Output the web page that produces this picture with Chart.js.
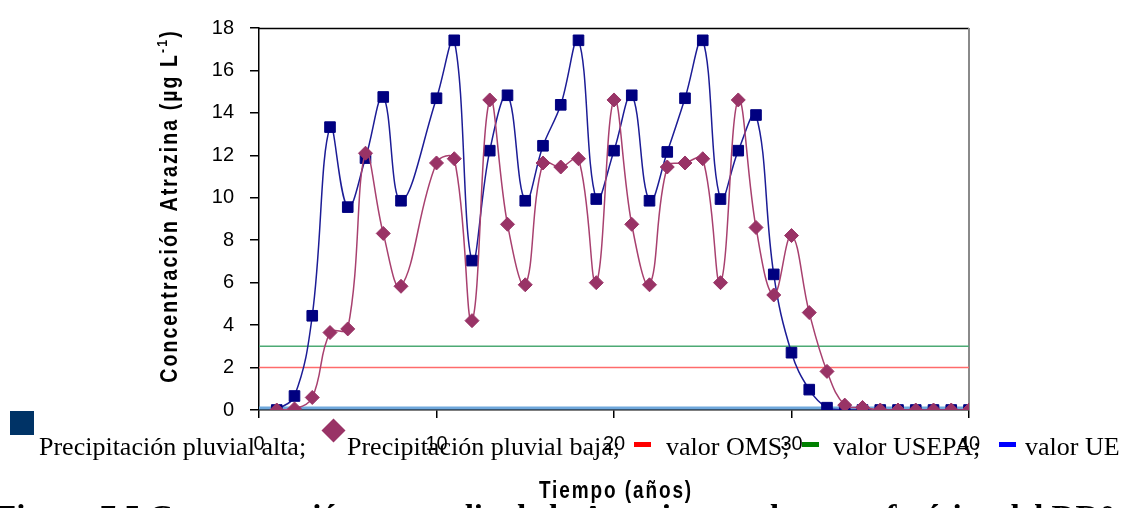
<!DOCTYPE html>
<html>
<head>
<meta charset="utf-8">
<script src="https://cdn.jsdelivr.net/npm/chart.js@4.4.0/dist/chart.umd.min.js"></script>
<style>
    html, body { margin: 0; padding: 0; background: #fff; overflow: hidden; }
    #wrap { position: relative; width: 1127px; height: 508px; overflow: hidden; }
    #chart { position: absolute; left: 0; top: 0; }
    .leg { position: absolute; top: 434px; font-family: "Liberation Serif", "Times New Roman", serif; font-size: 26px; line-height: 26px; color: #000; white-space: nowrap; }
    .dash { position: absolute; top: 442px; width: 17px; height: 5px; }
    #caption { position: absolute; left: -4px; top: 501px; font: bold 33px/33px "Liberation Serif", "Times New Roman", serif; color: #000; white-space: nowrap; }
</style>
</head>
<body>
<div id="wrap">
    <canvas id="chart" width="1127" height="508"></canvas>

    <div style="position:absolute; left:10px; top:411px; width:24px; height:24px; background:#003366;"></div>
    <span class="leg" style="left:39px;">Precipitación pluvial alta;</span>
    <div style="position:absolute; left:325px; top:422px; width:17px; height:17px; background:#993366; transform:rotate(45deg);"></div>
    <span class="leg" style="left:347px;">Precipitación pluvial baja;</span>
    <div class="dash" style="left:634px; background:#ff0000;"></div>
    <span class="leg" style="left:666px;">valor OMS;</span>
    <div class="dash" style="left:802px; background:#008000;"></div>
    <span class="leg" style="left:833px;">valor USEPA;</span>
    <div class="dash" style="left:999px; background:#0000ff;"></div>
    <span class="leg" style="left:1025px;">valor UE</span>

    <div id="caption">Figura 7.5 Concentración promedio de la Atrazina en el manto freático del DR0</div>
</div>

<script>
// years with data (no point at year 9)
const years = [1, 2, 3, 4, 5, 6, 7, 8, 10, 11, 12, 13, 14, 15, 16, 17, 18, 19, 20, 21,
               22, 23, 24, 25, 26, 27, 28, 29, 30, 31, 32, 33, 34, 35, 36, 37, 38, 39, 40];

const altaValues = [0, 0.66, 4.44, 13.33, 9.56, 11.87, 14.75, 9.86, 14.69, 17.42,
                    7.04, 12.22, 14.83, 9.86, 12.45, 14.38, 17.42, 9.94, 12.22, 14.83,
                    9.86, 12.16, 14.69, 17.42, 9.94, 12.22, 13.9, 6.39, 2.7, 0.96,
                    0.11, 0, 0, 0, 0, 0, 0, 0, 0];

const bajaValues = [0, 0.05, 0.59, 3.65, 3.82, 12.1, 8.32, 5.83, 11.64, 11.84,
                    4.21, 14.61, 8.75, 5.9, 11.64, 11.45, 11.84, 6.0, 14.61, 8.75,
                    5.9, 11.45, 11.64, 11.84, 6.0, 14.61, 8.6, 5.42, 8.22, 4.59,
                    1.82, 0.23, 0.12, 0, 0, 0, 0, 0, 0];

// guide values (µg/L)
const limitOMS = 2;
const limitUSEPA = 3;
const limitUE = 0.1;

const xRange = [0, 40];
const yRange = [0, 18];

const toPoints = (xs, ys) => xs.map((x, i) => ({ x: x, y: ys[i] }));
const flatLine = v => xRange.map(x => ({ x: x, y: v }));

const tickFont = { family: '"Liberation Sans", Arial, sans-serif', size: 20 };

const plotFrame = {
    id: 'plotFrame',
    beforeDatasetsDraw(chart) {
        const { ctx, chartArea: a } = chart;
        ctx.save();
        ctx.strokeStyle = '#000';
        ctx.lineWidth = 1.5;
        ctx.beginPath();
        ctx.moveTo(a.left, a.top + 0.5);
        ctx.lineTo(a.right, a.top + 0.5);
        ctx.stroke();
        ctx.strokeStyle = '#8a8a8a';
        ctx.lineWidth = 2;
        ctx.beginPath();
        ctx.moveTo(a.right, a.top);
        ctx.lineTo(a.right, a.bottom);
        ctx.stroke();
        ctx.restore();
    }
};

// titles are a bit taller than wide in the original, so stretch them
const axisTitles = {
    id: 'axisTitles',
    afterDraw(chart) {
        const { ctx, chartArea: a } = chart;
        ctx.save();
        ctx.fillStyle = '#000';
        ctx.textBaseline = 'alphabetic';

        // x title
        ctx.save();
        ctx.font = 'bold 20px "Liberation Sans", Arial, sans-serif';
        ctx.letterSpacing = '2px';
        ctx.textAlign = 'center';
        ctx.translate((a.left + a.right) / 2 + 2, 498);
        ctx.scale(0.95, 1.2);
        ctx.fillText('Tiempo (años)', 0, 0);
        ctx.restore();

        // y title, rotated, with superscript -1
        const mainFont = 'bold 19px "Liberation Sans", Arial, sans-serif';
        const supFont = 'bold 12px "Liberation Sans", Arial, sans-serif';
        const main = 'Concentración Atrazina (µg L';
        const sup = '-1';
        const end = ')';
        ctx.textAlign = 'left';
        ctx.letterSpacing = '2px';
        ctx.font = mainFont;
        const wMain = ctx.measureText(main).width;
        const wEnd = ctx.measureText(end).width;
        ctx.font = supFont;
        const wSup = ctx.measureText(sup).width;
        const total = wMain + wSup + wEnd;

        ctx.translate(177, 206);
        ctx.rotate(-Math.PI / 2);
        ctx.scale(1.03, 1.25);
        let x = -total / 2;
        ctx.font = mainFont;
        ctx.fillText(main, x, 0);
        x += wMain;
        ctx.font = supFont;
        ctx.fillText(sup, x, -8);
        x += wSup;
        ctx.font = mainFont;
        ctx.fillText(end, x, 0);
        ctx.restore();
    }
};

new Chart(document.getElementById('chart'), {
    type: 'line',
    data: {
        datasets: [
            {
                label: 'Precipitación pluvial baja',
                data: toPoints(years, bajaValues),
                borderColor: '#a8406f',
                borderWidth: 1.5,
                pointStyle: 'rectRot',
                pointRadius: 7,
                pointBackgroundColor: '#993366',
                pointBorderColor: '#993366',
                pointBorderWidth: 1,
                tension: 0.4,
                order: 1
            },
            {
                label: 'Precipitación pluvial alta',
                data: toPoints(years, altaValues),
                borderColor: '#1c1c96',
                borderWidth: 1.5,
                pointStyle: 'rect',
                pointRadius: 7.5,
                pointBackgroundColor: '#000080',
                pointBorderColor: '#000080',
                pointBorderWidth: 1,
                tension: 0.4,
                order: 2
            },
            {
                label: 'valor OMS',
                data: flatLine(limitOMS),
                borderColor: '#ff6b6b',
                borderWidth: 1.5,
                pointRadius: 0,
                order: 3
            },
            {
                label: 'valor USEPA',
                data: flatLine(limitUSEPA),
                borderColor: '#4caa74',
                borderWidth: 1.5,
                pointRadius: 0,
                order: 3
            },
            {
                label: 'valor UE',
                data: flatLine(limitUE),
                borderColor: '#6fa8dc',
                borderWidth: 3,
                pointRadius: 0,
                order: 3
            }
        ]
    },
    options: {
        responsive: false,
        animation: false,
        devicePixelRatio: 1,
        layout: { padding: { top: 20, right: 158, left: 0, bottom: 0 } },
        plugins: {
            legend: { display: false },
            tooltip: { enabled: false }
        },
        scales: {
            x: {
                type: 'linear',
                min: xRange[0],
                max: xRange[1],
                ticks: { stepSize: 10, color: '#000', font: tickFont, padding: 14 },
                grid: { drawOnChartArea: false, tickLength: 8, color: '#000', lineWidth: 1.5 },
                border: { color: '#000', width: 1.5 },
                afterFit: s => { s.height = 98; }
            },
            y: {
                min: yRange[0],
                max: yRange[1],
                ticks: { stepSize: 2, color: '#000', font: tickFont, padding: 16 },
                grid: { drawOnChartArea: false, tickLength: 9, color: '#000', lineWidth: 1.5 },
                border: { color: '#000', width: 1.5 },
                afterFit: s => { s.width = 259; }
            }
        }
    },
    plugins: [plotFrame, axisTitles]
});
</script>
</body>
</html>
